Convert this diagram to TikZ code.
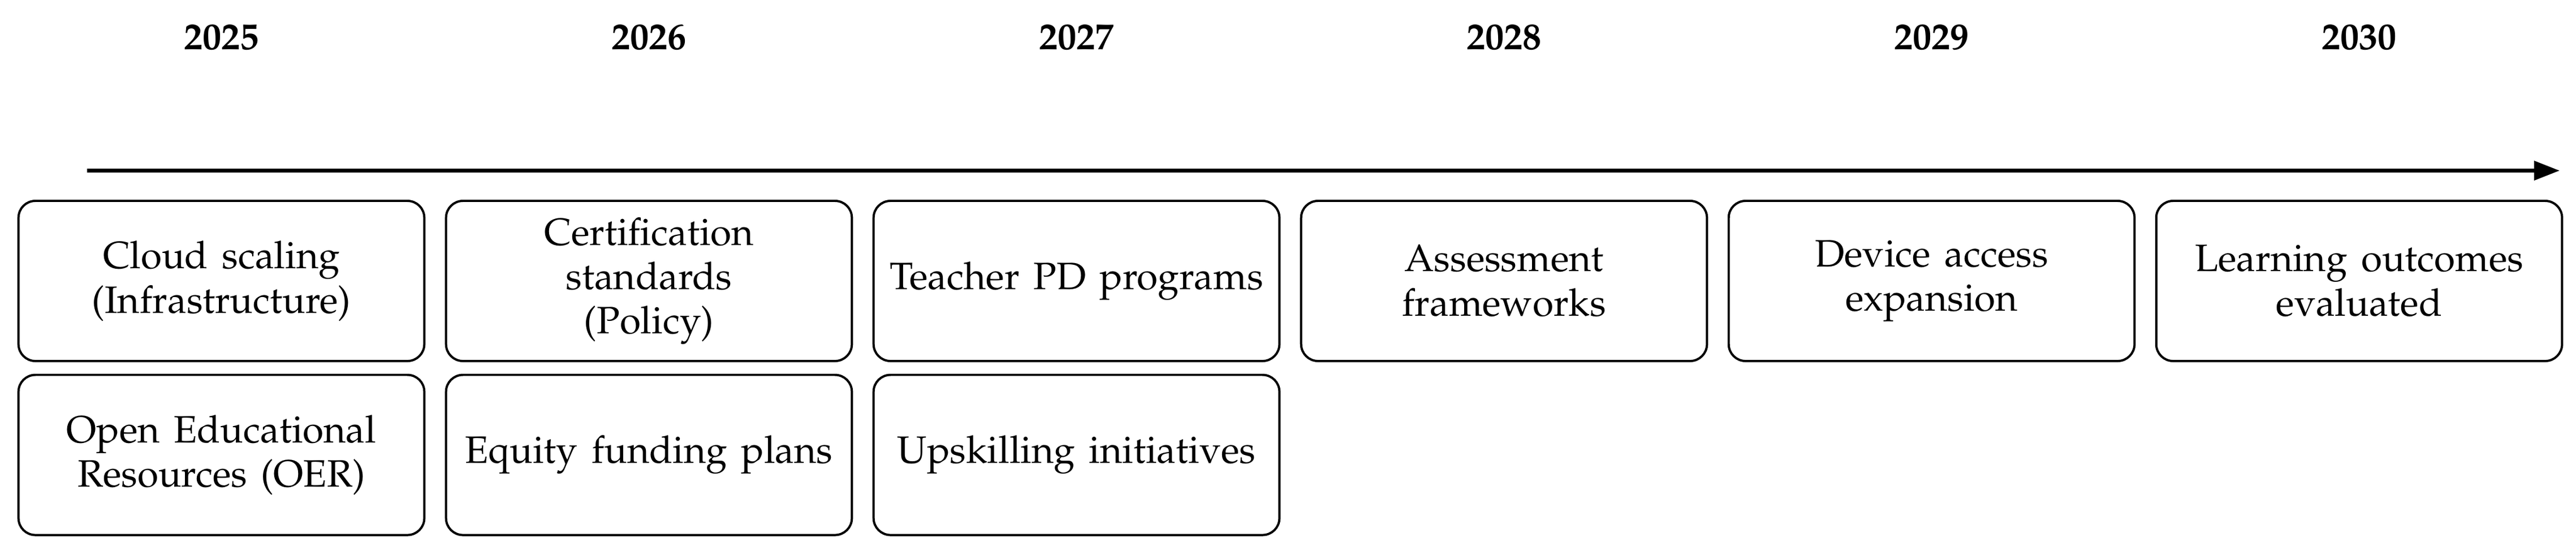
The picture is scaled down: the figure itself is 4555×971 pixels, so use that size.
\documentclass[tikz,border=0pt]{standalone}
\usepackage[T1]{fontenc}
\usepackage{mathpazo}
\usetikzlibrary{arrows.meta}
\newcommand{\mboxfont}{\fontsize{10.15}{11.8}\selectfont\spaceskip 3.7pt plus 1pt minus 0.5pt\relax}
\tikzset{
  mbox/.style={draw, line width=0.6pt, rounded corners=4.5pt, minimum width=108pt,
    minimum height=42.6pt, align=center, inner sep=0pt, font={\mboxfont}},
  yearlbl/.style={font=\fontsize{10}{12}\selectfont\bfseries, anchor=base, inner sep=0pt},
  tline/.style={line width=1pt, -{Triangle[length=6.8pt,width=5pt]}}
}
\begin{document}
\begin{tikzpicture}[x=0.15049pt, y=-0.15049pt]
\useasboundingbox (0,0) rectangle (4555,971);
% years
\node[yearlbl] (y2025) at (391.5,87) {2025};
\node[yearlbl] (y2026) at (1147.5,87) {2026};
\node[yearlbl] (y2027) at (1903.5,87) {2027};
\node[yearlbl] (y2028) at (2659.5,87) {2028};
\node[yearlbl] (y2029) at (3415.5,87) {2029};
\node[yearlbl] (y2030) at (4171.5,87) {2030};
% timeline
\coordinate (tstart) at (154,301.5);
\coordinate (tend) at (4526,301.5);
\draw[tline] (tstart) -- (tend);
% row 1
\node[mbox] (a1) at (391.5,496.5) {Cloud scaling\\(Infrastructure)};
\node[mbox] (a2) at (1147.5,496.5) {Certification\\standards\\(Policy)};
\node[mbox] (a3) at (1903.5,496.5) {Teacher PD programs};
\node[mbox] (a4) at (2659.5,496.5) {Assessment\\frameworks};
\node[mbox] (a5) at (3415.5,496.5) {Device access\\expansion};
\node[mbox] (a6) at (4171.5,496.5) {Learning outcomes\\evaluated};
% row 2
\node[mbox] (b1) at (391.5,804) {Open Educational\\Resources (OER)};
\node[mbox] (b2) at (1147.5,804) {Equity funding plans};
\node[mbox] (b3) at (1903.5,804) {Upskilling initiatives};
\end{tikzpicture}
\end{document}
